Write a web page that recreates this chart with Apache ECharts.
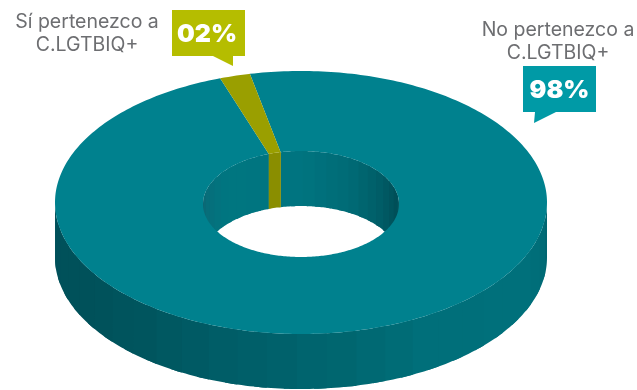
<!DOCTYPE html>
<html>
<head>
<meta charset="utf-8">
<style>html,body{margin:0;padding:0;background:#fff}#chart{width:637px;height:390px}</style>
<script src="https://cdn.jsdelivr.net/npm/echarts@6/dist/echarts.min.js"></script>
</head>
<body>
<div id="chart"></div>
<script>
// Survey shares
const categories = ['No pertenezco a\nC.LGTBIQ+', 'Sí pertenezco a\nC.LGTBIQ+'];
const shares = [98, 2];

// Colours per slice: top face, inner wall
const topColors = ['#00818e', '#9a9f00'];
const innerTint = [null, '#8a8e00'];
const calloutColors = ['#009aa6', '#b5bd00'];

// Wall shading, as [angle from top going clockwise, colour]
const outerShade = [[90,'#00626c'],[97,'#006a75'],[115,'#00707b'],[150,'#006f7a'],[170,'#00666f'],[180,'#00636d'],[200,'#005c66'],[220,'#00555e'],[240,'#00515a'],[270,'#00505a']];
const innerShade = [[270,'#0e6470'],[285,'#086d79'],[310,'#007680'],[360,'#007480'],[390,'#006a75'],[415,'#005c66'],[435,'#004f58'],[450,'#005660']];

// Disc geometry in pixels
const disc = {cx: 301, cy: 202.5, rx: 246, ry: 131.5, hx: 301, hy: 204, hrx: 98, hry: 53, depth: 55, start: -12, band: 7};

// Callout boxes and their caption anchors
const callouts = [
  {box: [523, 66, 73, 46], tail: [[535, 112], [534, 123], [556, 112]], valueAt: [559.5, 90.5], captionAt: [558, 42]},
  {box: [172, 10, 73, 46], tail: [[213, 56], [233, 66], [233, 56]], valueAt: [207, 34.5], captionAt: [87, 34]}
];

const total = shares.reduce((a, b) => a + b, 0);
const toDeg = v => echarts.number.linearMap(v, [0, total], [0, 360]);

function sliceRange(index) {
  const before = shares.slice(0, index).reduce((a, b) => a + b, 0);
  return [disc.start + toDeg(before), disc.start + toDeg(before + shares[index])];
}

function pt(cx, cy, rx, ry, deg, dy) {
  const t = deg * Math.PI / 180;
  return [cx + rx * Math.sin(t), cy - ry * Math.cos(t) + (dy || 0)];
}

function hexMix(a, b, f) {
  const pa = parseInt(a.slice(1), 16), pb = parseInt(b.slice(1), 16);
  const ch = s => Math.round(((pa >> s) & 255) * (1 - f) + ((pb >> s) & 255) * f);
  return 'rgb(' + ch(16) + ',' + ch(8) + ',' + ch(0) + ')';
}

function shadeAt(table, deg) {
  for (let i = 0; i < table.length - 1; i++) {
    if (deg <= table[i + 1][0]) {
      const f = (deg - table[i][0]) / (table[i + 1][0] - table[i][0]);
      return hexMix(table[i][1], table[i + 1][1], Math.max(0, f));
    }
  }
  return table[table.length - 1][1];
}

// Wall strips for one slice, limited to the half of the wall that faces the viewer.
// Each strip runs a little under the next one so no seam shows between them.
function wallStrips(index, from, to, cx, cy, rx, ry, table, tint) {
  const [s, e] = sliceRange(index);
  const children = [];
  for (let a = from; a < to; a += disc.band) {
    const b = Math.min(a + disc.band, to);
    for (const k of [0, -360]) {
      const lo = Math.max(a + k, s), hi = Math.min(b + k, e);
      if (hi <= lo) continue;
      const end = Math.min(hi + 3, e, to + k);
      const points = [];
      for (let d = lo; d < end; d += 1) points.push(pt(cx, cy, rx, ry, d));
      points.push(pt(cx, cy, rx, ry, end));
      const lower = points.map(p => [p[0], p[1] + disc.depth]).reverse();
      children.push({
        type: 'polygon',
        shape: {points: points.concat(lower)},
        style: {fill: tint || shadeAt(table, (a + b) / 2)}
      });
    }
  }
  return {type: 'group', children};
}

function renderOuter(params, api) {
  return wallStrips(params.dataIndex, 90, 270, disc.cx, disc.cy, disc.rx, disc.ry, outerShade, null);
}

function renderInner(params, api) {
  return wallStrips(params.dataIndex, 270, 450, disc.hx, disc.hy, disc.hrx, disc.hry, innerShade, innerTint[params.dataIndex]);
}

function renderTop(params, api) {
  const [s, e] = sliceRange(params.dataIndex);
  const outer = [], inner = [];
  for (let d = s; d < e; d += 1) {
    outer.push(pt(disc.cx, disc.cy, disc.rx, disc.ry, d));
    inner.push(pt(disc.hx, disc.hy, disc.hrx, disc.hry, d));
  }
  outer.push(pt(disc.cx, disc.cy, disc.rx, disc.ry, e));
  inner.push(pt(disc.hx, disc.hy, disc.hrx, disc.hry, e));
  return {
    type: 'polygon',
    shape: {points: outer.concat(inner.reverse())},
    style: {fill: topColors[params.dataIndex]}
  };
}

const rows = shares.map((v, i) => [v, i]);
const face = (renderItem, z) => ({type: 'custom', coordinateSystem: 'none', data: rows, renderItem, z, silent: true, animation: false});

const bodyFont = 'Inter, "Noto Sans", sans-serif';
const graphic = [];
callouts.forEach((c, i) => {
  graphic.push({
    type: 'polygon', z: 20,
    shape: {points: [[c.box[0], c.box[1]], [c.box[0] + c.box[2], c.box[1]], [c.box[0] + c.box[2], c.box[1] + c.box[3]], c.tail[2], c.tail[1], c.tail[0], [c.box[0], c.box[1] + c.box[3]]]},
    style: {fill: calloutColors[i]}
  });
  graphic.push({
    type: 'text', z: 21, x: c.valueAt[0], y: c.valueAt[1],
    style: {text: String(shares[i]).padStart(2, '0') + '%', fill: '#fff', font: '900 25px ' + bodyFont, align: 'center', verticalAlign: 'middle'}
  });
  graphic.push({
    type: 'text', z: 21, x: c.captionAt[0], y: c.captionAt[1],
    style: {text: categories[i], fill: '#6d6e71', font: '400 19.5px ' + bodyFont, lineHeight: 23, align: 'center', verticalAlign: 'middle'}
  });
});

const chart = echarts.init(document.getElementById('chart'), null, {renderer: 'canvas'});
chart.setOption({
  animation: false,
  backgroundColor: '#ffffff',
  series: [face(renderOuter, 1), face(renderInner, 2), face(renderTop, 3)],
  graphic
});
</script>
</body>
</html>
